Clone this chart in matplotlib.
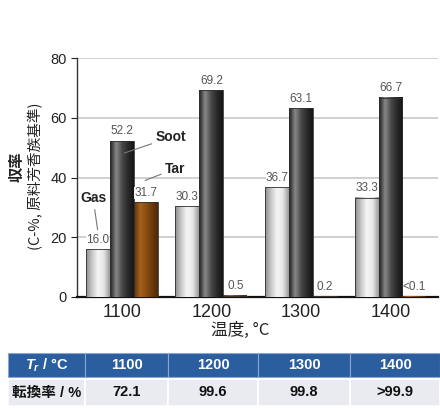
"""Yield of gas / soot / tar vs. reactor temperature, with conversion table."""

import matplotlib

matplotlib.use("Agg")
import matplotlib.pyplot as plt
import numpy as np
from matplotlib.colors import LinearSegmentedColormap
from matplotlib.patches import Rectangle

plt.rcParams["font.family"] = ["Liberation Sans", "Noto Sans CJK JP", "DejaVu Sans"]
plt.rcParams["mathtext.fontset"] = "custom"
plt.rcParams["mathtext.it"] = "Liberation Sans:bold:italic"
plt.rcParams["mathtext.rm"] = "Liberation Sans:bold"

# ---- data ----
temps = ["1100", "1200", "1300", "1400"]
gas = [16.0, 30.3, 36.7, 33.3]
soot = [52.2, 69.2, 63.1, 66.7]
tar = [31.7, 0.5, 0.2, 0.05]
gas_labels = ["16.0", "30.3", "36.7", "33.3"]
soot_labels = ["52.2", "69.2", "63.1", "66.7"]
tar_labels = ["31.7", "0.5", "0.2", "<0.1"]
conversion = ["72.1", "99.6", "99.8", ">99.9"]

# cylinder-like shading for each series (edge -> highlight -> edge)
SHADES = {
    "gas": ["#8c8c8c", "#c8c8c8", "#f6f6f6", "#e6e6e6", "#9a9a9a"],
    "soot": ["#1e1e1e", "#8a8a8a", "#4a4a4a", "#2a2a2a", "#151515"],
    "tar": ["#5e300a", "#a4631f", "#8a4e14", "#6d3a0c", "#4f2808"],
}

W, H = 440, 408
fig = plt.figure(figsize=(W / 100, H / 100), dpi=100)
ax = fig.add_axes([77 / W, 111 / H, (438 - 77) / W, (297 - 58) / H])

x = np.arange(len(temps))
bw = 0.267
series = [(gas, gas_labels, "gas", -bw), (soot, soot_labels, "soot", 0.0), (tar, tar_labels, "tar", bw)]

for vals, labels, key, off in series:
    cmap = LinearSegmentedColormap.from_list(key, SHADES[key])
    grad = np.linspace(0, 1, 64).reshape(1, -1)
    bars = ax.bar(x + off, vals, width=bw, facecolor="none", edgecolor="#303030", lw=0.6, zorder=4)
    for b in bars:
        x0, w, h = b.get_x(), b.get_width(), b.get_height()
        ax.imshow(grad, cmap=cmap, extent=[x0, x0 + w, 0, h], aspect="auto", zorder=3,
                  interpolation="bicubic")
    for xi, v, lab in zip(x + off, vals, labels):
        ax.text(xi, v + 1.2, lab, ha="center", va="bottom", fontsize=8.5, color="#555555",
                zorder=5, bbox=dict(facecolor="white", edgecolor="none", pad=0.0))

ax.set_xlim(-0.5, 3.53)
ax.set_ylim(0, 80)
ax.set_yticks([0, 20, 40, 60, 80])
ax.set_xticks(x)
ax.set_xticklabels(temps, fontsize=13, color="#222222")
ax.tick_params(axis="x", length=0, pad=5)
ax.tick_params(axis="y", labelsize=10.5, colors="#222222", length=4, width=0.8)
ax.yaxis.grid(True, color="#c8c8c8", lw=1.2)
ax.set_axisbelow(True)
for s in ("top", "right"):
    ax.spines[s].set_visible(False)
ax.spines["left"].set_color("#333333")
ax.spines["left"].set_linewidth(1.0)
ax.spines["bottom"].set_color("#111111")
ax.spines["bottom"].set_linewidth(1.6)

# series call-outs
line = dict(arrowstyle="-", color="#777777", lw=0.8, shrinkA=1, shrinkB=0)
ax.annotate("Gas", xy=(-0.27, 22.5), xytext=(-0.32, 33), ha="center", va="center",
            fontsize=10, fontweight="bold", color="#222222", arrowprops=line, zorder=6)
ax.annotate("Soot", xy=(0.03, 48.2), xytext=(0.55, 53.5), ha="center", va="center",
            fontsize=10, fontweight="bold", color="#222222", arrowprops=line, zorder=6)
ax.annotate("Tar", xy=(0.26, 39.0), xytext=(0.6, 43.0), ha="center", va="center",
            fontsize=10, fontweight="bold", color="#222222", arrowprops=line, zorder=6)

# axis titles
fig.text(17 / W, 1 - 167 / H, "収率", rotation=90, ha="center", va="center",
         fontsize=11, fontweight="bold", family=["Noto Sans CJK JP"], color="#222222")
fig.text(36 / W, 1 - 176 / H, "(C-%, 原料芳香族基準)", rotation=90, ha="center", va="center",
         fontsize=10.5, family=["Noto Sans CJK JP", "DejaVu Sans"], color="#222222")
fig.text(240 / W, 1 - 330 / H, "温度, °C", ha="center", va="center",
         fontsize=12, family=["Noto Sans CJK JP", "DejaVu Sans"], color="#222222")

# conversion table
tab = fig.add_axes([0, 0, 1, 1])
tab.set_xlim(0, W)
tab.set_ylim(H, 0)
tab.axis("off")
col_edges = [8, 85, 168, 258, 350, 440]
head_top, head_bot, row_top, row_bot = 353, 377, 379, 406
head_color, row_color = "#2b5e9e", "#e9ebf0"

header = [r"$T_r$ / °C"] + temps
row = ["転換率 / %"] + conversion
for i in range(len(col_edges) - 1):
    x0, x1 = col_edges[i], col_edges[i + 1]
    tab.add_patch(Rectangle((x0, head_top), x1 - x0, head_bot - head_top,
                            facecolor=head_color, edgecolor="#8aa6cc", lw=0.8))
    tab.add_patch(Rectangle((x0, row_top), x1 - x0, row_bot - row_top,
                            facecolor=row_color, edgecolor="white", lw=1.2))
    xc = (x0 + x1) / 2
    tab.text(xc, (head_top + head_bot) / 2, header[i], ha="center", va="center",
             fontsize=10.5, fontweight="bold", color="white")
    tab.text(xc, (row_top + row_bot) / 2, row[i], ha="center", va="center",
             fontsize=10.5, fontweight="bold", color="#111111",
             family=["Liberation Sans", "Noto Sans CJK JP"])

fig.savefig("out.png", dpi=100)
